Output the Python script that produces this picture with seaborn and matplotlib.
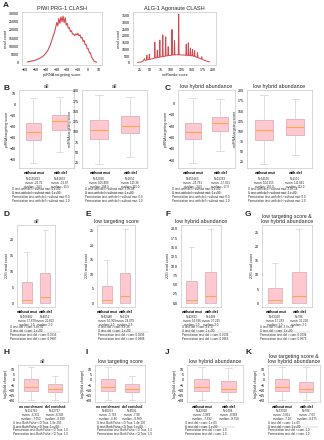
import numpy as np
import pandas as pd
import matplotlib
matplotlib.use("Agg")
import matplotlib.pyplot as plt
import matplotlib.transforms as mtrans
from matplotlib.lines import Line2D
import seaborn as sns

W, H = 324, 440

# A: read count distributions
piwi_x = [-58, -55, -50, -45, -42, -40, -38, -36, -34, -32,
          -31, -30, -29, -28, -27, -26, -25, -24, -23, -22, -21, -20, -19, -18, -17, -16,
          -15, -14, -13, -12, -11, -10, -9, -8, -7, -6, -5, -4, -3, -2, -1,
          0, 1, 2, 3, 4, 5, 6, 8]
piwi_y = [400, 700, 1500, 3000, 4500, 6000, 8000, 11000, 15000, 19000,
          21500, 24500, 22500, 27000, 24000, 28000, 25000, 28500, 24500, 27500,
          23000, 24000, 21000, 21500, 19000, 19500, 17500, 17500, 16500, 17500,
          17000, 18000, 16500, 17000, 15000, 15500, 13000, 13500, 11000, 11000,
          8500, 8500, 6000, 6000, 3500, 2500, 1200, 600, 200]

alg_x = [20, 28, 34, 36, 38, 41, 42, 43, 47, 48, 49, 55, 60, 61, 62, 66, 67, 68,
         72, 73, 74, 79, 80, 81, 86, 87, 88, 92, 93, 94, 101, 102, 103, 107, 108, 109,
         117, 118, 119, 125, 130, 135, 136, 137, 140, 141, 142, 145, 146, 147,
         150, 151, 152, 155, 156, 157, 162, 163, 164, 168, 172, 173, 174, 180, 186, 192]
alg_y = [30, 60, 150, 320, 180, 200, 570, 220, 250, 650, 260, 300, 340, 1540, 360,
         380, 940, 400, 420, 1690, 430, 460, 2080, 470, 500, 1930, 510, 530, 1200, 540,
         570, 2480, 580, 590, 1650, 600, 600, 3620, 600, 590, 580, 560, 1390, 560,
         550, 1490, 550, 540, 1100, 530, 520, 1000, 510, 480, 900, 470, 400, 750, 390,
         330, 280, 450, 260, 180, 120, 60]

# box plots: whisker low, q1, median, q3, whisker high
mut_cats = ["without mut", "with del"]
enr_cats = ["no enrichment", "del enriched"]

b1_stats = [[-53.4, -32.3, -25.0, -16.6, 5.7], [-43.0, -23.0, -15.0, -10.0, 7.0]]
b2_stats = [[22, 82, 104, 128, 190], [40, 97, 115, 138, 186]]
c1_stats = [[-53.0, -31.0, -25.0, -17.0, 4.6], [-42.0, -24.0, -17.6, -11.6, 4.0]]
c2_stats = [[20, 80, 104, 127, 190], [42, 92, 112, 130, 180]]
d_stats = [[0, 0.2, 1.0, 6.5, 16.0], [0, 0.2, 2.0, 9.5, 23.0]]
e_stats = [[0, 0.2, 1.0, 6.0, 15.0], [0, 0.2, 2.5, 10.5, 25.5]]
f_stats = [[0, 0.2, 1.0, 6.0, 15.0], [0, 0.2, 2.0, 8.3, 20.0]]
g_stats = [[0, 0.2, 1.0, 5.5, 14.0], [0, 0.2, 2.5, 11.0, 26.0]]
h_stats = [[-19.0, -11.0, -7.0, 1.0, 12.0], [-19.0, -12.0, -8.5, -4.0, 4.0]]
i_stats = [[-19.0, -11.0, -6.5, 1.0, 12.0], [-19.0, -12.0, -8.5, -4.0, 4.0]]
j_stats = [[-19.0, -11.0, -7.0, 0.5, 12.0], [-19.0, -11.5, -8.5, -1.0, 11.0]]
k_stats = [[-19.0, -11.0, -7.0, 0.5, 12.0], [-19.0, -12.0, -9.0, -2.0, 12.0]]

b1_n = ["N=1136863\nmean: -23.76\nmedian: -24.5", "N=41663\nmean: -15.87\nmedian: -15.5"]
b2_n = ["N=52930\nmean: 105.889\nmedian: 104.0", "N=2650\nmean: 115.36\nmedian: 115.0"]
c1_n = ["N=651665\nmean: -23.791\nmedian: -24.5", "N=23393\nmean: -17.051\nmedian: -17.0"]
c2_n = ["N=34529\nmean: 104.255\nmedian: 102.0", "N=1101\nmean: 111.041\nmedian: 112.0"]
d_n = ["N=106482\nmean: 17.678\nmedian: 1.0", "N=4051\nmean: 20.863\nmedian: 2.0"]
e_n = ["N=82448\nmean: 16.909\nmedian: 1.0", "N=2128\nmean: 24.079\nmedian: 2.5"]
f_n = ["N=42632\nmean: 16.696\nmedian: 1.0", "N=1498\nmean: 27.225\nmedian: 2.0"]
g_n = ["N=33320\nmean: 17.233\nmedian: 1.0", "N=786\nmean: 36.218\nmedian: 2.5"]
h_n = ["N=112765\nmean: -6.331\nmedian: -7.052", "N=12727\nmean: -8.343\nmedian: -8.589"]
i_n = ["N=80253\nmean: -5.763\nmedian: -6.86", "N=8501\nmean: -7.98\nmedian: -8.589"]
j_n = ["N=42018\nmean: -5.968\nmedian: -7.592", "N=1498\nmean: -8.968\nmedian: -8.758"]
k_n = ["N=33550\nmean: -5.811\nmedian: -7.18", "N=786\nmean: -7.03\nmedian: -8.675"]

b1_tests = ["U test: with del > without mut: 0.e+00", "U test: with del < without mut: 1.e+00",
            "Permutation test: with del > without mut: 0.0", "Permutation test: with del < without mut: 1.0"]
b2_tests = ["U test: with del > without mut: 3.0e-88", "U test: with del < without mut: 1.e+00",
            "Permutation test: with del > without mut: 0.0", "Permutation test: with del < without mut: 1.0"]
c1_tests = ["U test: with del > without mut: 0.e+00", "U test: with del < without mut: 1.e+00",
            "Permutation test: with del > without mut: 0.0", "Permutation test: with del < without mut: 1.0"]
c2_tests = ["U test: with del > without mut: 3.0e-18", "U test: with del < without mut: 1.e+00",
            "Permutation test: with del > without mut: 0.0", "Permutation test: with del < without mut: 1.0"]
d_tests = ["U test: del > com: 3.4e-02", "U test: del < com: 1.e+00",
           "Permutation test: del > com: 0.0016", "Permutation test: del < com: 0.9987"]
e_tests = ["U test: del > com: 8.e-26", "U test: del < com: 1.e+00",
           "Permutation test: del > com: 0.0196", "Permutation test: del < com: 0.9808"]
f_tests = ["U test: del > com: 4.e-17", "U test: del < com: 1.e+00",
           "Permutation test: del > com: 0.0036", "Permutation test: del < com: 0.9963"]
g_tests = ["U test: del > com: 3.7e-18", "U test: del < com: 1.e+00",
           "Permutation test: del > com: 0.0094", "Permutation test: del < com: 0.9879"]
h_tests = ["U test: Both False < D True: 1.9e-205", "U test: Both False > D True: 1.e+00",
           "Permutation test: Both False < D True: 1.0", "Permutation test: Both False > D True: 1.0"]
i_tests = ["U test: Both False < D True: 1.4e-197", "U test: Both False > D True: 1.e+00",
           "Permutation test: Both False < D True: 1.0", "Permutation test: Both False > D True: 1.0"]
j_tests = ["U test: del < com: 1.e-05", "U test: del > com: 1.e+00",
           "Permutation test: del < com: 1.0", "Permutation test: del > com: 1.0"]
k_tests = ["U test: del < com: 1.e-05", "U test: del > com: 1.e+00",
           "Permutation test: del < com: 1.0", "Permutation test: del > com: 1.0"]

sns.set_style("white")
plt.rcParams["font.family"] = ["Liberation Sans", "DejaVu Sans"]
plt.rcParams["axes.edgecolor"] = "#c8c8c8"
plt.rcParams["axes.linewidth"] = 0.5

fig = plt.figure(figsize=(W / 100, H / 100), dpi=100)
fig.patch.set_facecolor("white")


def add_ax(x0, y0, x1, y1):
    return fig.add_axes([x0 / W, 1 - y1 / H, (x1 - x0) / W, (y1 - y0) / H])


def fy(ypx):
    return 1 - ypx / H


def style_ax(ax):
    ax.tick_params(labelsize=2.6, length=1.2, width=0.3, pad=0.8, colors="#333333")
    ax.tick_params(axis="both", labelcolor="black")
    for s in ax.spines.values():
        s.set_linewidth(0.5)
        s.set_color("#c8c8c8")


def letter(x, y, s):
    fig.text(x / W, fy(y), s, fontsize=6, fontweight="bold", va="top", ha="left")


# ---- A
ax = add_ax(22, 12, 102, 65)
sns.lineplot(x=piwi_x, y=piwi_y, ax=ax, color="#d9474f", lw=0.8)
ax.set_xlim(-63, 13)
ax.set_ylim(-1500, 31000)
ax.set_xticks([-60, -50, -40, -30, -20, -10, 0, 10])
ax.set_yticks(range(0, 30001, 5000))
ax.set_title("PIWI PRG-1 CLASH", fontsize=4, pad=1.5)
ax.set_xlabel("piRNA targeting score", fontsize=2.8, labelpad=1)
ax.set_ylabel("read count", fontsize=2.8, labelpad=1)
style_ax(ax)

ax = add_ax(133, 12, 216, 65)
sns.lineplot(x=alg_x, y=alg_y, ax=ax, color="#d9474f", lw=0.7)
ax.set_xlim(9, 207)
ax.set_ylim(-160, 3780)
ax.set_xticks([25, 50, 75, 100, 125, 150, 175, 200])
ax.set_yticks(range(0, 3501, 500))
ax.set_title("ALG-1 Agonaute CLASH", fontsize=4, pad=1.5)
ax.set_xlabel("miRanda score", fontsize=2.8, labelpad=1)
ax.set_ylabel("read count", fontsize=2.8, labelpad=1)
style_ax(ax)


def box_panel(rect, stats, cats, title, ylabel, yticks, ylim, ntext, tests, text_x, ys,
              xfs=2.7):
    ax = add_ax(*rect)
    df = pd.DataFrame({"group": np.repeat(cats, 5), "value": np.concatenate(stats)})
    sns.boxplot(data=df, x="group", y="value", ax=ax, whis=(0, 100), width=0.56,
                showfliers=False, color="#ffc8d0", saturation=1, linecolor="#d8a8b0",
                linewidth=0.5,
                medianprops=dict(color="#ffa64d", lw=0.8),
                whiskerprops=dict(color="#d0d0d0", lw=0.5),
                capprops=dict(color="#d0d0d0", lw=0.5))
    ax.set_xlim(-0.55, 1.55)
    ax.set_ylim(*ylim)
    ax.set_yticks(yticks)
    ax.set_xlabel("")
    ax.set_ylabel(ylabel, fontsize=2.6, labelpad=1)
    ax.set_title(title, fontsize=3.8, pad=1.5, linespacing=1.1)
    style_ax(ax)
    for t in ax.get_xticklabels():
        t.set_fontweight("bold")
        t.set_fontsize(xfs)
    tr = mtrans.blended_transform_factory(ax.transData, fig.transFigure)
    for i, s in enumerate(ntext):
        ax.text(i, fy(ys[0]), s, transform=tr, fontsize=2.05, ha="center", va="top",
                linespacing=1.0)
    fs = 2.05
    fig.text(text_x / W, fy(ys[1]), tests[0] + "\n" + tests[1], fontsize=fs,
             ha="left", va="top", linespacing=1.0)
    fig.add_artist(Line2D([text_x / W, (text_x + 50) / W], [fy(ys[2]), fy(ys[2])],
                          color="#aaaaaa", lw=0.3))
    fig.text(text_x / W, fy(ys[3]), tests[2] + "\n" + tests[3], fontsize=fs,
             ha="left", va="top", linespacing=1.0)
    return ax


ys_b = (176.5, 187, 193.5, 194.5)
box_panel((19, 90, 74, 168), b1_stats, mut_cats, "all", "piRNA targeting score",
          [10, 0, -10, -20, -30, -40, -50], (-58, 13), b1_n, b1_tests, 12, ys_b)
box_panel((82, 90, 147, 168), b2_stats, mut_cats, "all", "miRNA targeting score",
          [25, 50, 75, 100, 125, 150, 175, 200], (12, 202), b2_n, b2_tests, 85, ys_b)
box_panel((178, 90, 235, 168), c1_stats, mut_cats, "low hybrid abundance", "piRNA targeting score",
          [0, -10, -20, -30, -40, -50], (-57, 12), c1_n, c1_tests, 172, ys_b)
box_panel((247, 90, 312, 168), c2_stats, mut_cats, "low hybrid abundance", "miRNA targeting score",
          [25, 50, 75, 100, 125, 150, 175, 200], (10, 202), c2_n, c2_tests, 248, ys_b)

ys_d = (314.5, 325, 331.5, 332.5)
box_panel((17, 225, 55, 307), d_stats, mut_cats, "all", "22G read count",
          [0, 5, 10, 15, 20], (-1.2, 24.5), d_n, d_tests, 10, ys_d)
box_panel((97, 225, 135, 307), e_stats, mut_cats, "low targeting score", "22G read count",
          [0, 5, 10, 15, 20, 25], (-1.3, 27), e_n, e_tests, 98, ys_d)
box_panel((181, 225, 221, 307), f_stats, mut_cats, "low hybrid abundance", "22G read count",
          [0, 2.5, 5, 7.5, 10, 12.5, 15, 17.5, 20], (-1.0, 21), f_n, f_tests, 182, ys_d)
box_panel((262, 225, 312, 307), g_stats, mut_cats, "low targeting score &\nlow hybrid abundance",
          "22G read count", [0, 5, 10, 15, 20, 25], (-1.3, 27.5), g_n, g_tests, 260, ys_d)

ys_h = (408.5, 420.5, 426.5, 427.5)
box_panel((18, 365, 68, 402), h_stats, enr_cats, "all", "log2(fold change)",
          [10, 5, 0, -5, -10, -15, -20], (-21, 14), h_n, h_tests, 13, ys_h, xfs=2.4)
box_panel((95, 365, 145, 402), i_stats, enr_cats, "low targeting score", "log2(fold change)",
          [10, 5, 0, -5, -10, -15, -20], (-21, 14), i_n, i_tests, 97, ys_h, xfs=2.4)
box_panel((187, 365, 243, 402), j_stats, mut_cats, "low hybrid abundance", "log2(fold change)",
          [10, 5, 0, -5, -10, -15, -20], (-21, 14), j_n, j_tests, 185, ys_h)
box_panel((268, 365, 320, 402), k_stats, mut_cats, "low targeting score &\nlow hybrid abundance",
          "log2(fold change)", [10, 5, 0, -5, -10, -15, -20], (-21, 14), k_n, k_tests, 268, ys_h)

letter(3, 2, "A")
letter(3, 85, "B")
letter(165, 85, "C")
letter(3, 211, "D")
letter(85, 211, "E")
letter(165, 211, "F")
letter(245, 211, "G")
letter(3, 349, "H")
letter(85, 349, "I")
letter(165, 349, "J")
letter(245, 349, "K")

fig.savefig("out.png", dpi=100)
